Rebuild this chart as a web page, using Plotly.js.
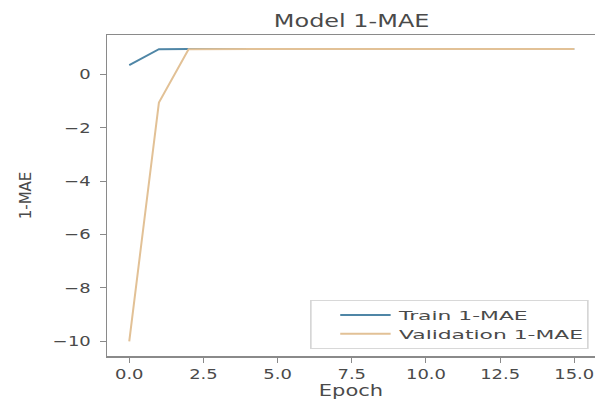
<!DOCTYPE html>
<html>
<head>
<meta charset="utf-8">
<script src="https://cdn.plot.ly/plotly-3.0.1.min.js"></script>
<style>html,body{margin:0;padding:0;background:#fff;}#chart{width:595px;height:403px;}</style>
</head>
<body>
<div id="chart"></div>
<script>
const epochs = [0,1,2,3,4,5,6,7,8,9,10,11,12,13,14,15];
const train = [0.35,0.95,0.96,0.96,0.96,0.96,0.96,0.96,0.96,0.96,0.96,0.96,0.96,0.96,0.96,0.96];
const validation = [-10.0,-1.05,0.95,0.96,0.96,0.96,0.96,0.96,0.96,0.96,0.96,0.96,0.96,0.96,0.96,0.96];
const xTicks = [0,2.5,5,7.5,10,12.5,15];
const xTickLabels = ['0.0','2.5','5.0','7.5','10.0','12.5','15.0'];
const yTicks = [0,-2,-4,-6,-8,-10];
const yTickLabels = ['0','\u22122','\u22124','\u22126','\u22128','\u221210'];

const font = {family: 'DejaVu Sans, sans-serif', color: '#4a4a4a'};
const traces = [
  {x: epochs, y: train, mode: 'lines', name: 'Train 1-MAE', line: {color: '#4f86a6', width: 2}},
  {x: epochs, y: validation, mode: 'lines', name: 'Validation 1-MAE', line: {color: '#e2c196', width: 2}}
];
const layout = {
  width: 595, height: 403,
  margin: {l: 107, r: 0, t: 35, b: 47},
  paper_bgcolor: '#fff', plot_bgcolor: '#fff',
  font: Object.assign({size: 15}, font),
  title: {text: 'Model 1-MAE', x: 0.591, xanchor: 'center', y: 0.948, yanchor: 'middle', font: Object.assign({size: 18}, font)},
  xaxis: {
    range: [-0.75, 15.70], tickvals: xTicks, ticktext: xTickLabels,
    showgrid: false, zeroline: false, showline: true, linecolor: '#8a8a8a', linewidth: 1.5,
    mirror: true, ticks: 'outside', ticklen: 5, tickcolor: '#8a8a8a',
    tickfont: Object.assign({size: 14}, font),
    title: {text: 'Epoch', font: Object.assign({size: 15}, font), standoff: 4}
  },
  yaxis: {
    range: [-10.55, 1.48], tickvals: yTicks, ticktext: yTickLabels,
    showgrid: false, zeroline: false, showline: true, linecolor: '#8a8a8a', linewidth: 1.5,
    ticks: 'outside', ticklen: 6, tickcolor: '#8a8a8a', ticklabelstandoff: 6,
    tickfont: Object.assign({size: 14}, font),
    title: {text: '1-MAE', font: Object.assign({size: 15}, font), standoff: 26}
  },
  showlegend: true,
  legend: {
    x: 0.5, y: 0.5, xanchor: 'left', yanchor: 'top',
    bgcolor: 'rgba(255,255,255,0.85)', bordercolor: '#d6d6d6', borderwidth: 1,
    font: Object.assign({size: 13}, font), tracegroupgap: 0
  }
};

function stretch(el, s) {
  const w = el.getComputedTextLength();
  if (w > 0) {
    el.setAttribute('textLength', (w * s).toFixed(2));
    el.setAttribute('lengthAdjust', 'spacingAndGlyphs');
  }
}

Plotly.newPlot('chart', traces, layout, {displayModeBar: false, staticPlot: true}).then(function (gd) {
  gd.querySelectorAll('.g-gtitle text').forEach(function (t) { stretch(t, 1.33); });
  gd.querySelectorAll('.g-xtitle text').forEach(function (t) { stretch(t, 1.4); });
  gd.querySelectorAll('.xtick text, .ytick text').forEach(function (t) { stretch(t, 1.28); });
  // legend: stretched horizontally like the reference image
  const leg = gd.querySelector('g.legend');
  if (leg) {
    const bg = leg.querySelector('rect.bg');
    const h = parseFloat(bg.getAttribute('height'));
    const sx = 1.68, targetW = 277, targetH = 48;
    bg.setAttribute('width', (targetW / sx).toFixed(2));
    const sb = leg.querySelector('g.scrollbox');
    if (sb) {
      const tr = sb.getAttribute('transform') || '';
      sb.setAttribute('transform', tr + ' translate(12,0)');
    }
    leg.setAttribute('transform', 'translate(310,300) scale(' + sx + ',' + (targetH / h).toFixed(4) + ')');
  }
});
</script>
</body>
</html>
